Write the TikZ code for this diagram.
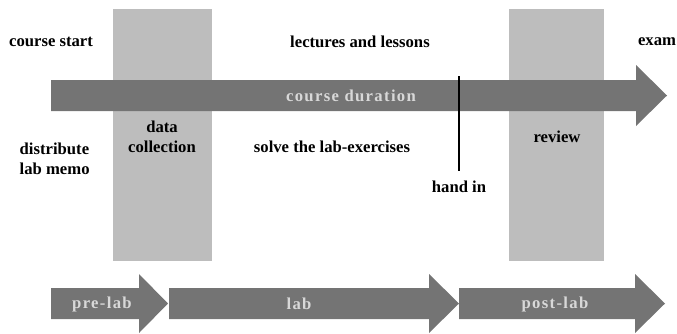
\documentclass[tikz,border=0pt]{standalone}
\usepackage{fontspec}
\setmainfont{Liberation Serif}
\definecolor{phasegray}{HTML}{BDBDBD}
\definecolor{arrowgray}{HTML}{747474}
\definecolor{arrowtext}{HTML}{D8D8D8}
\tikzset{
  phase/.style={fill=phasegray},
  fatarrow/.style={fill=arrowgray},
  label/.style={font=\fontsize{12.5}{15}\selectfont\bfseries, align=center},
  arrowlabel/.style={font=\fontsize{12.5}{15}\selectfont\bfseries\addfontfeature{LetterSpace=8}, text=arrowtext},
  deadline/.style={line width=1.6pt}
}
\begin{document}
\begin{tikzpicture}[x=0.75pt, y=-0.75pt]
\useasboundingbox (0,0) rectangle (677,333);
% phases behind the time line
\fill[phase] (113,9) rectangle (212,261);
\fill[phase] (509,9) rectangle (604,261);

% course time line
\fill[fatarrow] (51,80) -- (636,80) -- (636,65) -- (667,95.5) -- (636,126) -- (636,111) -- (51,111) -- cycle;
\node [arrowlabel] (duration) at (351,96) {course duration};

% lab parts
\fill[fatarrow] (51,288) -- (139,288) -- (139,274) -- (168,303.5) -- (139,333) -- (139,319) -- (51,319) -- cycle;
\fill[fatarrow] (169,288) -- (429,288) -- (429,274) -- (459,303.5) -- (429,333) -- (429,319) -- (169,319) -- cycle;
\fill[fatarrow] (459,288) -- (635,288) -- (635,274) -- (665,303.5) -- (635,333) -- (635,319) -- (459,319) -- cycle;
\node [arrowlabel] (prelab) at (102,304) {pre-lab};
\node [arrowlabel] (lab) at (299,304) {lab};
\node [arrowlabel] (postlab) at (555,304) {post-lab};

% events above the line
\node [label] (start) at (51,42) {course start};
\node [label] (lectures) at (360,42) {lectures and lessons};
\node [label] (exam) at (657,42) {exam};

% events below the line
\node [label, align=left, anchor=north west] (memo) at (15,138) {distribute\\lab memo};
\node [label] (collect) at (162,137) {data\\collection};
\node [label] (solve) at (332,147) {solve the lab-exercises};
\node [label] (review) at (557,137) {review};
\node [label] (handin) at (459,187) {hand in};

\coordinate (due) at (459,76);
\draw[deadline, shorten >=4pt] (due) -- (handin.north);
\end{tikzpicture}
\end{document}
